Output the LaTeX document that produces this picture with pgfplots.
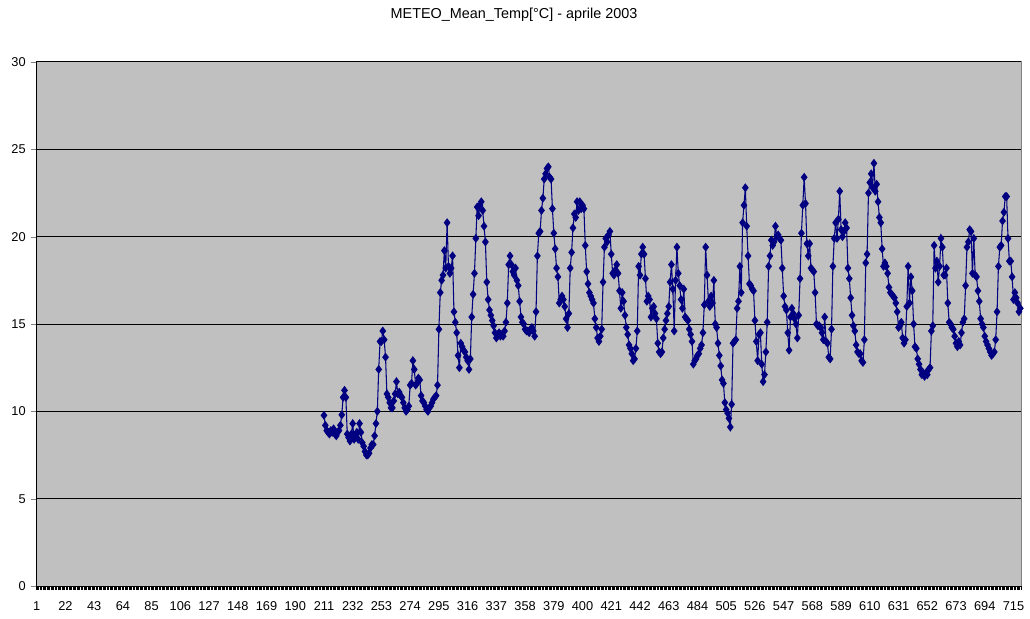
\documentclass[border=0pt]{standalone}
\usepackage{pgfplots}
\pgfplotsset{compat=1.18}
\usepackage{fontspec}
\setmainfont{Liberation Sans}
\definecolor{plotgray}{RGB}{192,192,192}
\definecolor{framegray}{RGB}{128,128,128}
\definecolor{navyline}{RGB}{0,0,128}
\begin{document}
\begin{tikzpicture}
\path[use as bounding box] (-27pt,-24pt) rectangle (745.5pt,439.5pt);
\begin{axis}[
  at={(0,0)}, anchor=south west,
  scale only axis, width=738.75pt, height=393pt,
  xmin=0.5, xmax=720.5, ymin=0, ymax=30,
  axis background/.style={fill=plotgray, draw=framegray, line width=0.75pt},
  axis x line*=bottom, axis y line*=left,
  axis line style={-, black, line width=0.75pt},
  xtick={1,22,...,715},
  minor xtick={0.5,1.5,...,720.5},
  major x tick style={draw=none},
  minor x tick style={black, line width=0.5pt},
  minor tick length=3pt,
  ytick={0,5,...,30},
  major tick length=3.75pt,
  tick align=outside,
  ymajorgrids, major grid style={black, line width=0.75pt},
  /pgf/number format/assume math mode=true,
  tick label style={font=\fontsize{9.6pt}{11pt}\selectfont},
  xticklabel style={yshift=-4.5pt},
  yticklabel style={xshift=-0.5pt},
  clip=false,
]
\addplot[navyline, line width=0.8pt, mark=diamond*, mark size=2.7pt, mark options={fill=navyline, draw=navyline}]
 table[row sep=\\] {h v\\
211 9.77\\ 212 9.2\\ 213 8.9\\ 214 8.8\\ 215 8.7\\ 216 8.9\\ 217 8.8\\ 218 9.0\\ 219 8.7\\ 220 8.6\\
221 8.8\\ 222 8.9\\ 223 9.2\\ 224 9.8\\ 225 10.8\\ 226 11.2\\ 227 10.8\\ 228 8.7\\ 229 8.5\\ 230 8.3\\
231 8.7\\ 232 9.3\\ 233 8.4\\ 234 8.6\\ 235 8.8\\ 236 8.4\\ 237 9.3\\ 238 8.8\\ 239 8.2\\ 240 8.0\\
241 7.7\\ 242 7.5\\ 243 7.5\\ 244 7.6\\ 245 7.9\\ 246 8.1\\ 247 8.1\\ 248 8.6\\ 249 9.3\\ 250 10.0\\
251 12.4\\ 252 14.0\\ 253 14.0\\ 254 14.6\\ 255 14.1\\ 256 13.1\\ 257 11.0\\ 258 10.8\\ 259 10.5\\ 260 10.2\\
261 10.2\\ 262 10.6\\ 263 11.0\\ 264 11.7\\ 265 11.0\\ 266 11.1\\ 267 10.9\\ 268 10.8\\ 269 10.5\\ 270 10.2\\
271 10.0\\ 272 10.1\\ 273 10.3\\ 274 11.5\\ 275 11.6\\ 276 12.9\\ 277 12.4\\ 278 11.5\\ 279 11.6\\ 280 11.9\\
281 11.8\\ 282 10.9\\ 283 10.6\\ 284 10.5\\ 285 10.3\\ 286 10.1\\ 287 10.0\\ 288 10.2\\ 289 10.3\\ 290 10.5\\
291 10.7\\ 292 10.8\\ 293 10.9\\ 294 11.5\\ 295 14.7\\ 296 16.8\\ 297 17.5\\ 298 17.8\\ 299 19.2\\ 300 18.2\\
301 20.8\\ 302 18.3\\ 303 17.9\\ 304 18.2\\ 305 18.9\\ 306 15.7\\ 307 15.1\\ 308 14.5\\ 309 13.2\\ 310 12.5\\
311 13.9\\ 312 13.7\\ 313 13.5\\ 314 13.4\\ 315 13.1\\ 316 12.9\\ 317 12.4\\ 318 13.0\\ 319 15.4\\ 320 16.7\\
321 17.9\\ 322 19.9\\ 323 21.7\\ 324 21.2\\ 325 21.8\\ 326 22.0\\ 327 21.5\\ 328 20.6\\ 329 19.7\\ 330 17.4\\
331 16.4\\ 332 15.8\\ 333 15.5\\ 334 15.2\\ 335 14.9\\ 336 14.5\\ 337 14.2\\ 338 14.4\\ 339 14.5\\ 340 14.3\\
341 14.4\\ 342 14.3\\ 343 14.6\\ 344 15.1\\ 345 16.2\\ 346 18.4\\ 347 18.9\\ 348 18.4\\ 349 18.0\\ 350 17.8\\
351 18.2\\ 352 17.5\\ 353 17.2\\ 354 16.3\\ 355 15.4\\ 356 15.1\\ 357 15.0\\ 358 14.7\\ 359 14.6\\ 360 14.6\\
361 14.5\\ 362 14.7\\ 363 14.8\\ 364 14.6\\ 365 14.3\\ 366 15.7\\ 367 18.9\\ 368 20.2\\ 369 20.3\\ 370 21.5\\
371 22.2\\ 372 23.3\\ 373 23.6\\ 374 23.9\\ 375 24.0\\ 376 23.4\\ 377 23.3\\ 378 21.6\\ 379 20.2\\ 380 19.3\\
381 18.2\\ 382 17.7\\ 383 16.2\\ 384 16.4\\ 385 16.6\\ 386 16.4\\ 387 16.0\\ 388 15.3\\ 389 14.8\\ 390 15.6\\
391 18.2\\ 392 19.1\\ 393 20.5\\ 394 21.3\\ 395 21.1\\ 396 22.0\\ 397 21.5\\ 398 22.0\\ 399 21.6\\ 400 21.8\\
401 21.6\\ 402 19.5\\ 403 18.0\\ 404 17.3\\ 405 16.8\\ 406 16.6\\ 407 16.4\\ 408 16.2\\ 409 15.3\\ 410 14.8\\
411 14.2\\ 412 14.0\\ 413 14.3\\ 414 14.7\\ 415 17.4\\ 416 19.4\\ 417 19.9\\ 418 19.7\\ 419 20.1\\ 420 20.3\\
421 19.0\\ 422 17.9\\ 423 17.8\\ 424 18.1\\ 425 18.4\\ 426 17.9\\ 427 16.9\\ 428 15.9\\ 429 16.8\\ 430 16.3\\
431 15.5\\ 432 14.8\\ 433 14.4\\ 434 13.8\\ 435 13.6\\ 436 13.3\\ 437 12.9\\ 438 13.0\\ 439 13.6\\ 440 14.6\\
441 18.3\\ 442 17.8\\ 443 19.0\\ 444 19.4\\ 445 19.0\\ 446 17.6\\ 447 16.3\\ 448 16.6\\ 449 16.4\\ 450 15.4\\
451 15.9\\ 452 16.0\\ 453 15.6\\ 454 15.3\\ 455 13.9\\ 456 13.4\\ 457 13.3\\ 458 13.4\\ 459 14.2\\ 460 14.7\\
461 15.2\\ 462 15.6\\ 463 16.0\\ 464 17.4\\ 465 18.4\\ 466 17.0\\ 467 14.6\\ 468 17.5\\ 469 19.4\\ 470 17.9\\
471 17.2\\ 472 16.4\\ 473 15.9\\ 474 17.0\\ 475 15.4\\ 476 15.3\\ 477 15.2\\ 478 14.7\\ 479 14.4\\ 480 14.0\\
481 12.7\\ 482 12.9\\ 483 13.0\\ 484 13.2\\ 485 13.3\\ 486 13.6\\ 487 13.8\\ 488 14.5\\ 489 16.1\\ 490 19.4\\
491 17.8\\ 492 16.3\\ 493 16.0\\ 494 16.6\\ 495 16.2\\ 496 17.5\\ 497 15.0\\ 498 14.8\\ 499 13.9\\ 500 13.2\\
501 12.6\\ 502 11.8\\ 503 11.6\\ 504 10.5\\ 505 10.1\\ 506 9.9\\ 507 9.6\\ 508 9.1\\ 509 10.4\\ 510 13.9\\
511 14.0\\ 512 14.1\\ 513 15.9\\ 514 16.3\\ 515 18.3\\ 516 16.8\\ 517 20.8\\ 518 21.8\\ 519 22.8\\ 520 20.6\\
521 18.9\\ 522 17.3\\ 523 17.2\\ 524 17.0\\ 525 16.9\\ 526 15.2\\ 527 14.0\\ 528 12.9\\ 529 14.4\\ 530 14.5\\
531 12.7\\ 532 11.7\\ 533 12.1\\ 534 13.4\\ 535 15.1\\ 536 18.3\\ 537 18.9\\ 538 19.8\\ 539 19.5\\ 540 19.7\\
541 20.6\\ 542 20.0\\ 543 20.1\\ 544 19.9\\ 545 19.8\\ 546 18.2\\ 547 16.6\\ 548 16.0\\ 549 15.8\\ 550 14.5\\
551 13.5\\ 552 15.4\\ 553 15.9\\ 554 15.6\\ 555 15.3\\ 556 15.0\\ 557 14.2\\ 558 15.5\\ 559 17.6\\ 560 20.2\\
561 21.8\\ 562 23.4\\ 563 21.9\\ 564 19.6\\ 565 18.9\\ 566 19.6\\ 567 18.2\\ 568 18.1\\ 569 18.0\\ 570 16.8\\
571 15.0\\ 572 14.9\\ 573 14.9\\ 574 14.8\\ 575 14.5\\ 576 14.1\\ 577 15.4\\ 578 14.0\\ 579 13.9\\ 580 13.1\\
581 13.0\\ 582 14.7\\ 583 18.3\\ 584 19.9\\ 585 20.8\\ 586 19.9\\ 587 21.0\\ 588 22.6\\ 589 20.4\\ 590 20.0\\
591 20.3\\ 592 20.8\\ 593 20.5\\ 594 18.2\\ 595 17.6\\ 596 16.5\\ 597 15.5\\ 598 14.9\\ 599 14.6\\ 600 13.8\\
601 13.4\\ 602 13.3\\ 603 13.3\\ 604 12.9\\ 605 12.8\\ 606 14.1\\ 607 18.5\\ 608 19.0\\ 609 22.5\\ 610 23.1\\
611 23.6\\ 612 22.8\\ 613 24.2\\ 614 22.6\\ 615 23.0\\ 616 22.0\\ 617 21.1\\ 618 20.8\\ 619 19.3\\ 620 18.3\\
621 18.5\\ 622 18.3\\ 623 17.9\\ 624 17.1\\ 625 16.8\\ 626 16.7\\ 627 16.6\\ 628 16.5\\ 629 16.2\\ 630 15.7\\
631 14.8\\ 632 14.9\\ 633 15.1\\ 634 14.2\\ 635 13.9\\ 636 14.1\\ 637 16.0\\ 638 18.3\\ 639 16.2\\ 640 17.7\\
641 16.9\\ 642 15.0\\ 643 13.7\\ 644 13.6\\ 645 13.0\\ 646 12.7\\ 647 12.4\\ 648 12.1\\ 649 12.2\\ 650 12.0\\
651 12.2\\ 652 12.1\\ 653 12.4\\ 654 12.5\\ 655 14.6\\ 656 14.9\\ 657 19.5\\ 658 18.2\\ 659 18.6\\ 660 17.4\\
661 18.3\\ 662 19.9\\ 663 19.4\\ 664 17.8\\ 665 17.8\\ 666 18.2\\ 667 16.2\\ 668 15.1\\ 669 15.0\\ 670 14.8\\
671 14.7\\ 672 14.3\\ 673 13.9\\ 674 13.7\\ 675 14.0\\ 676 13.8\\ 677 14.5\\ 678 15.1\\ 679 15.3\\ 680 17.2\\
681 19.4\\ 682 19.7\\ 683 20.4\\ 684 20.3\\ 685 17.9\\ 686 19.9\\ 687 17.8\\ 688 17.7\\ 689 16.9\\ 690 16.3\\
691 15.3\\ 692 15.0\\ 693 14.8\\ 694 14.3\\ 695 14.0\\ 696 13.8\\ 697 13.6\\ 698 13.4\\ 699 13.2\\ 700 13.3\\
701 13.4\\ 702 14.1\\ 703 15.7\\ 704 18.3\\ 705 19.4\\ 706 19.5\\ 707 20.9\\ 708 21.4\\ 709 22.3\\ 710 22.3\\
711 19.9\\ 712 18.6\\ 713 18.6\\ 714 17.7\\ 715 16.4\\ 716 16.8\\ 717 16.5\\ 718 16.2\\ 719 15.7\\ 720 15.9\\
};
\node[font=\fontsize{10.8pt}{13pt}\selectfont] at ([xshift=358.5pt,yshift=35.25pt]rel axis cs:0,1) {METEO\_Mean\_Temp[°C] - aprile 2003};
\end{axis}
\end{tikzpicture}
\end{document}
